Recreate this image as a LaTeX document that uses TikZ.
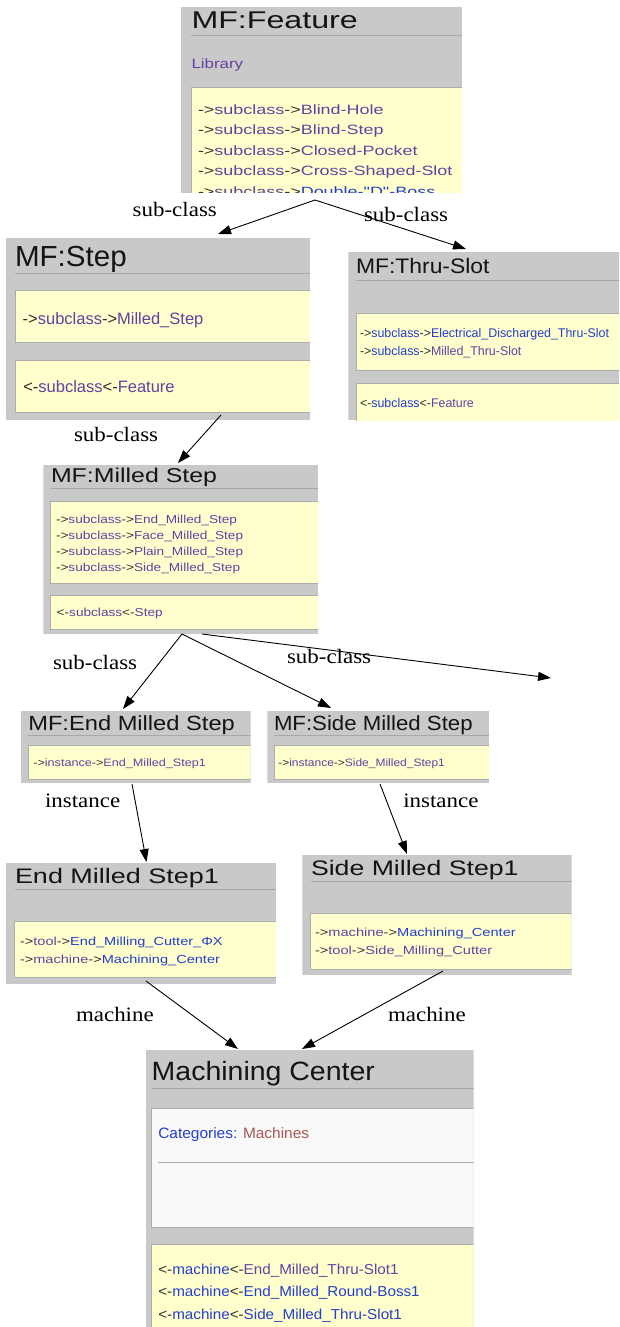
\documentclass[tikz,border=0pt]{standalone}
\usepackage{fontspec}
\setmainfont{Liberation Sans}[Ligatures=TeXOff]
\newfontfamily\lblfont{Liberation Serif}
\usetikzlibrary{arrows.meta}
\definecolor{pgray}{RGB}{201,201,201}
\definecolor{sepgray}{RGB}{168,168,168}
\definecolor{yfill}{RGB}{255,255,206}
\definecolor{yborder}{RGB}{172,172,172}
\definecolor{wfill}{RGB}{249,249,249}
\definecolor{cpurple}{RGB}{98,66,160}
\definecolor{cblue}{RGB}{36,62,205}
\definecolor{cdark}{RGB}{45,45,45}
\definecolor{cred}{RGB}{168,88,88}
\definecolor{ctitle}{RGB}{20,20,20}
\newcommand\hsc[2]{\scalebox{#1}[1]{#2}}
\newcommand\cP[1]{\textcolor{cpurple}{#1}}
\newcommand\cB[1]{\textcolor{cblue}{#1}}
\newcommand\fsz[1]{\fontsize{#1}{#1}\selectfont}
\tikzset{
  panel/.style={fill=pgray, draw=none, inner sep=0pt, outer sep=0pt, anchor=north west},
  ybox/.style={fill=yfill, draw=yborder, line width=1pt},
  wbox/.style={fill=wfill, draw=yborder, line width=1pt},
  sepline/.style={draw=sepgray, line width=1pt},
  txt/.style={anchor=base west, inner sep=0pt, outer sep=0pt, text=cdark},
  ttl/.style={anchor=base west, inner sep=0pt, outer sep=0pt, text=ctitle},
  lbl/.style={anchor=base west, inner sep=0pt, outer sep=0pt, font=\lblfont\fsz{20.5}},
  conn/.style={line width=0.9pt, -{Triangle[length=13pt,width=9pt]}}
}
\begin{document}
\begin{tikzpicture}[x=1pt,y=-1pt]
\useasboundingbox[fill=white] (0,0) rectangle (619,1327);

% ---------- MF:Feature ----------
\begin{scope}
\clip (181,7) rectangle (462,192.5);
\node[panel, minimum width=281pt, minimum height=186pt] (feature) at (181,7) {};
\node[ttl] (featT) at (191.5,28.3) {\fsz{24.2}\hsc{1.33}{MF:Feature}};
\draw[sepline] (191,35.5) -- (470,35.5);
\node[txt] (featLib) at (191.5,69) {\fsz{13.5}\hsc{1.25}{\cP{Library}}};
\draw[ybox] (191.5,87.5) rectangle (480,220);
\node[txt] (featA) at (198,114.5) {\fsz{13.5}\hsc{1.33}{->\cP{subclass}->\cP{Blind-Hole}}};
\node[txt] (featB) at (198,135) {\fsz{13.5}\hsc{1.33}{->\cP{subclass}->\cP{Blind-Step}}};
\node[txt] (featC) at (198,155.5) {\fsz{13.5}\hsc{1.33}{->\cP{subclass}->\cP{Closed-Pocket}}};
\node[txt] (featD) at (198,175.7) {\fsz{13.5}\hsc{1.33}{->\cP{subclass}->\cP{Cross-Shaped-Slot}}};
\node[txt] (featE) at (198,196) {\fsz{13.5}\hsc{1.33}{->\cP{subclass}->\cB{Double-"D"-Boss}}};
\end{scope}

% ---------- MF:Step ----------
\begin{scope}
\clip (6,238) rectangle (310,420);
\node[panel, minimum width=304pt, minimum height=182pt] (step) at (6,238) {};
\node[ttl] (stepT) at (15,266) {\fsz{29}\hsc{1.02}{MF:Step}};
\draw[sepline] (15,273.3) -- (320,273.3);
\draw[ybox] (15,290) rectangle (330,342.3);
\draw[ybox] (15,360.7) rectangle (330,412.3);
\node[txt] (stepA) at (22.7,324.3) {\fsz{16.5}->\cP{subclass}->\cP{Milled\_Step}};
\node[txt] (stepB) at (23.3,392.3) {\fsz{16.5}<-\cP{subclass}<-\cP{Feature}};
\end{scope}

% ---------- MF:Thru-Slot ----------
\begin{scope}
\clip (348.3,251.7) rectangle (619,420);
\node[panel, minimum width=270.7pt, minimum height=168.3pt] (thru) at (348.3,251.7) {};
\node[ttl] (thruT) at (356,273.3) {\fsz{21}\hsc{1.09}{MF:Thru-Slot}};
\draw[sepline] (356,280) -- (630,280);
\draw[ybox] (356,313.3) rectangle (640,370);
\draw[ybox] (356,383.3) rectangle (640,440);
\node[txt] (thruA) at (360,337.3) {\fsz{12.6}\hsc{0.985}{->\cB{subclass}->\cB{Electrical\_Discharged\_Thru-Slot}}};
\node[txt] (thruB) at (360,355.3) {\fsz{12.6}\hsc{0.985}{->\cB{subclass}->\cP{Milled\_Thru-Slot}}};
\node[txt] (thruC) at (360,407.7) {\fsz{12.6}\hsc{0.985}{<-\cB{subclass}<-\cP{Feature}}};
\end{scope}

% ---------- MF:Milled Step ----------
\begin{scope}
\clip (43.3,465) rectangle (318,634);
\node[panel, minimum width=274.7pt, minimum height=169pt] (milled) at (43.3,465) {};
\node[ttl] (milT) at (51,482.7) {\fsz{20}\hsc{1.245}{MF:Milled Step}};
\draw[sepline] (51,488.3) -- (330,488.3);
\draw[ybox] (50,501) rectangle (340,583.3);
\draw[ybox] (50,595) rectangle (340,629.3);
\node[txt] (milA) at (56,523.3) {\fsz{11.6}\hsc{1.175}{->\cP{subclass}->\cP{End\_Milled\_Step}}};
\node[txt] (milB) at (56,539.3) {\fsz{11.6}\hsc{1.175}{->\cP{subclass}->\cP{Face\_Milled\_Step}}};
\node[txt] (milC) at (56,555.3) {\fsz{11.6}\hsc{1.175}{->\cP{subclass}->\cP{Plain\_Milled\_Step}}};
\node[txt] (milD) at (56,571.3) {\fsz{11.6}\hsc{1.175}{->\cP{subclass}->\cP{Side\_Milled\_Step}}};
\node[txt] (milE) at (56.7,616.7) {\fsz{11.6}\hsc{1.175}{<-\cP{subclass}<-\cP{Step}}};
\end{scope}

% ---------- MF:End Milled Step ----------
\begin{scope}
\clip (21,711) rectangle (250.7,783.3);
\node[panel, minimum width=229.7pt, minimum height=72.3pt] (ems) at (21,711) {};
\node[ttl] (emsT) at (28.3,730.7) {\fsz{20.5}\hsc{1.155}{MF:End Milled Step}};
\draw[sepline] (28,735.7) -- (260,735.7);
\draw[ybox] (28.3,745) rectangle (270,779.3);
\node[txt] (emsA) at (33.3,766) {\fsz{10.7}\hsc{1.18}{->\cP{instance}->\cP{End\_Milled\_Step1}}};
\end{scope}

% ---------- MF:Side Milled Step ----------
\begin{scope}
\clip (267.3,711) rectangle (489,783.3);
\node[panel, minimum width=221.7pt, minimum height=72.3pt] (sms) at (267.3,711) {};
\node[ttl] (smsT) at (274,730.7) {\fsz{20.5}\hsc{1.083}{MF:Side Milled Step}};
\draw[sepline] (274,735.7) -- (500,735.7);
\draw[ybox] (274,745) rectangle (510,779.3);
\node[txt] (smsA) at (278.3,766) {\fsz{10.7}\hsc{1.12}{->\cP{instance}->\cP{Side\_Milled\_Step1}}};
\end{scope}

% ---------- End Milled Step1 ----------
\begin{scope}
\clip (6,863.3) rectangle (276,984);
\node[panel, minimum width=270pt, minimum height=120.7pt] (ems1) at (6,863.3) {};
\node[ttl] (ems1T) at (15,883.3) {\fsz{21}\hsc{1.285}{End Milled Step1}};
\draw[sepline] (15,889.3) -- (290,889.3);
\draw[ybox] (14,921.7) rectangle (300,977.7);
\node[txt] (ems1A) at (20,945.7) {\fsz{11.7}\hsc{1.245}{->\cP{tool}->\cB{End\_Milling\_Cutter\_ΦX}}};
\node[txt] (ems1B) at (20,963.3) {\fsz{11.7}\hsc{1.245}{->\cP{machine}->\cB{Machining\_Center}}};
\end{scope}

% ---------- Side Milled Step1 ----------
\begin{scope}
\clip (302.3,855) rectangle (571.7,975);
\node[panel, minimum width=269.4pt, minimum height=120pt] (sms1) at (302.3,855) {};
\node[ttl] (sms1T) at (311,875) {\fsz{21}\hsc{1.27}{Side Milled Step1}};
\draw[sepline] (311,881) -- (590,881);
\draw[ybox] (310,913.3) rectangle (600,969);
\node[txt] (sms1A) at (315,936.7) {\fsz{11.7}\hsc{1.25}{->\cP{machine}->\cB{Machining\_Center}}};
\node[txt] (sms1B) at (315,954.3) {\fsz{11.7}\hsc{1.25}{->\cP{tool}->\cP{Side\_Milling\_Cutter}}};
\end{scope}

% ---------- Machining Center ----------
\begin{scope}
\clip (146,1050) rectangle (473.5,1327);
\node[panel, minimum width=327.5pt, minimum height=290pt] (mc) at (146,1050) {};
\node[ttl] (mcT) at (151.7,1080.7) {\fsz{26.5}\hsc{1.075}{Machining Center}};
\draw[sepline] (151.7,1088.3) -- (490,1088.3);
\draw[wbox] (151.7,1108.3) rectangle (500,1227.3);
\node[txt] (mcCat) at (158.3,1138.3) {\fsz{15}\hsc{1.03}{\cB{Categories:} \textcolor{cred}{Machines}}};
\draw[sepline] (158,1162.7) -- (500,1162.7);
\draw[ybox] (151.7,1244) rectangle (500,1360);
\node[txt] (mcA) at (158.3,1274.3) {\fsz{14.4}\hsc{1.057}{<-\cB{machine}<-\cP{End\_Milled\_Thru-Slot1}}};
\node[txt] (mcB) at (158.3,1296.7) {\fsz{14.4}\hsc{1.057}{<-\cB{machine}<-\cB{End\_Milled\_Round-Boss1}}};
\node[txt] (mcC) at (158.3,1319.3) {\fsz{14.4}\hsc{1.057}{<-\cB{machine}<-\cB{Side\_Milled\_Thru-Slot1}}};
\end{scope}

% ---------- connectors ----------
\coordinate (fOut) at (315,200);
\coordinate (stepIn) at (218,234);
\coordinate (thruIn) at (466,249);
\coordinate (stepOut) at (221,415);
\coordinate (milIn) at (178,463);
\coordinate (milOut) at (182,634);
\coordinate (milOut2) at (202,634);
\coordinate (emsIn) at (123,709);
\coordinate (smsIn) at (331,708);
\coordinate (freeEnd) at (551,678);
\coordinate (emsOut) at (132,784);
\coordinate (ems1In) at (146.5,862);
\coordinate (smsOut) at (380,784);
\coordinate (sms1In) at (407,854);
\coordinate (ems1Out) at (146,981);
\coordinate (sms1Out) at (443,971);
\coordinate (mcIn1) at (238,1049);
\coordinate (mcIn2) at (302,1049);

\draw[conn] (fOut) -- (stepIn);
\draw[conn] (fOut) -- (thruIn);
\draw[conn] (stepOut) -- (milIn);
\draw[conn] (milOut) -- (emsIn);
\draw[conn] (milOut) -- (smsIn);
\draw[conn] (milOut2) -- (freeEnd);
\draw[conn] (emsOut) -- (ems1In);
\draw[conn] (smsOut) -- (sms1In);
\draw[conn] (ems1Out) -- (mcIn1);
\draw[conn] (sms1Out) -- (mcIn2);

% ---------- labels ----------
\node[lbl] (l1) at (132.7,216.7) {\hsc{1.12}{sub-class}};
\node[lbl] (l2) at (364,221.7) {\hsc{1.12}{sub-class}};
\node[lbl] (l3) at (74,441) {\hsc{1.12}{sub-class}};
\node[lbl] (l4) at (53,669) {\hsc{1.12}{sub-class}};
\node[lbl] (l5) at (287,663) {\hsc{1.12}{sub-class}};
\node[lbl] (l6) at (45,807.3) {\hsc{1.12}{instance}};
\node[lbl] (l7) at (403.3,807.3) {\hsc{1.12}{instance}};
\node[lbl] (l8) at (76,1021) {\hsc{1.12}{machine}};
\node[lbl] (l9) at (388,1021) {\hsc{1.12}{machine}};
\end{tikzpicture}
\end{document}
